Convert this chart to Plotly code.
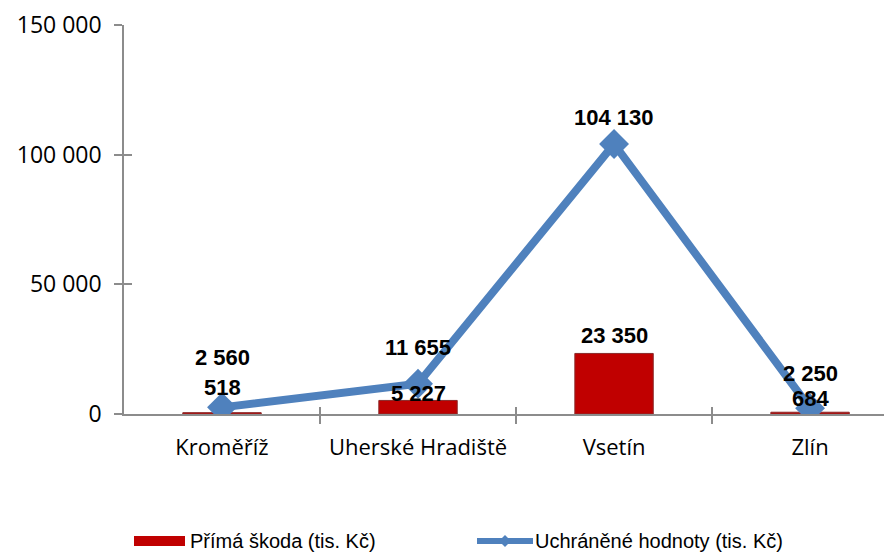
import plotly.graph_objects as go

categories = ["Kroměříž", "Uherské Hradiště", "Vsetín", "Zlín"]
prima_skoda = [518, 5227, 23350, 684]
uchranene = [2560, 11655, 104130, 2250]
y_ticks = [0, 50000, 100000, 150000]
y_tick_labels = ["0", "50 000", "100 000", "150 000"]

bar_color = "#C00000"
line_color = "#4F81BD"
axis_color = "#8C8C8C"

fig = go.Figure()
xs = list(range(len(categories)))
fig.add_trace(go.Bar(x=xs, y=prima_skoda, width=0.40, marker=dict(color=bar_color, line=dict(color="#8B2A2A", width=1)),
                     showlegend=False, hoverinfo="skip"))
fig.add_trace(go.Scatter(x=xs, y=uchranene, mode="lines+markers",
                         line=dict(color=line_color, width=8),
                         marker=dict(symbol="diamond", size=23, color=line_color),
                         showlegend=False, hoverinfo="skip"))

def fmt(v):
    return f"{v:,}".replace(",", " ")

label_font = dict(family="Liberation Sans, Arial", size=22, color="black")
bar_shift = [25, 7, 18, 14]
line_shift = [50, 36, 26, 35]
for i, v in enumerate(prima_skoda):
    fig.add_annotation(x=xs[i], y=v, text="<b>%s</b>" % fmt(v), showarrow=False,
                       yanchor="middle", yshift=bar_shift[i], font=label_font)
for i, v in enumerate(uchranene):
    fig.add_annotation(x=xs[i], y=v, text="<b>%s</b>" % fmt(v), showarrow=False,
                       yanchor="middle", yshift=line_shift[i], font=label_font)

# custom legend (positions relative to plot area: origin x=124, y=414 on page; 768 x 389 px)
def px(x):
    return (x - 124) / 768

def py(y):
    return -(y - 414) / 389

legend_font = dict(family="Liberation Sans, Arial", size=20, color="black")
fig.add_shape(type="rect", xref="paper", yref="paper", x0=px(134), x1=px(185),
              y0=py(536), y1=py(546), fillcolor=bar_color, line=dict(width=0))
fig.add_annotation(xref="paper", yref="paper", x=px(188), y=py(541), text="Přímá škoda (tis. Kč)",
                   showarrow=False, xanchor="left", yanchor="middle", font=legend_font)
fig.add_shape(type="line", xref="paper", yref="paper", x0=px(477), x1=px(533),
              y0=py(541), y1=py(541), line=dict(color=line_color, width=6))
fig.add_shape(type="path", xref="paper", yref="paper",
              path="M %f %f L %f %f L %f %f L %f %f Z" % (
                  px(499), py(541), px(505), py(535), px(511), py(541), px(505), py(547)),
              fillcolor=line_color, line=dict(width=0))
fig.add_annotation(xref="paper", yref="paper", x=px(533), y=py(541), text="Uchráněné hodnoty (tis. Kč)",
                   showarrow=False, xanchor="left", yanchor="middle", font=legend_font)

rng = [-0.5, 3.418]
fig.update_layout(
    width=884, height=544,
    margin=dict(l=116, r=0, t=17, b=138),
    paper_bgcolor="white", plot_bgcolor="white",
    showlegend=False,
    xaxis=dict(range=rng, tickmode="array", tickvals=xs, ticktext=categories,
               showline=True, linecolor=axis_color, linewidth=1.5, showgrid=False, zeroline=False,
               ticks="", ticklabelstandoff=13,
               tickfont=dict(family="Open Sans, Liberation Sans", size=22, color="black"),
               fixedrange=True),
    xaxis2=dict(overlaying="x", range=rng, tickmode="array", tickvals=[0.5, 1.5, 2.5, 3.5],
                ticks="outside", ticklen=9, tickcolor=axis_color, tickwidth=1.5, showticklabels=False,
                showgrid=False, zeroline=False, anchor="y", side="bottom", showline=False),
    xaxis3=dict(overlaying="x", range=rng, tickmode="array", tickvals=[0.5, 1.5, 2.5, 3.5],
                ticks="inside", ticklen=7, tickcolor=axis_color, tickwidth=1.5, showticklabels=False,
                showgrid=False, zeroline=False, anchor="y", side="bottom", showline=False),
    yaxis=dict(range=[0, 150000], tickmode="array", tickvals=y_ticks, ticktext=y_tick_labels,
               showline=True, linecolor=axis_color, linewidth=1.5, showgrid=False, zeroline=False,
               ticks="outside", ticklen=8, tickcolor=axis_color, tickwidth=1.5, ticklabelstandoff=8,
               tickfont=dict(family="Open Sans, Liberation Sans", size=23, color="black"), fixedrange=True),
    yaxis2=dict(overlaying="y", range=[0, 150000], tickmode="array", tickvals=y_ticks,
                ticks="inside", ticklen=8, tickcolor=axis_color, tickwidth=1.5, showticklabels=False,
                showgrid=False, zeroline=False, anchor="x", side="left", showline=False),
)
fig.add_trace(go.Scatter(x=[None], y=[None], xaxis="x2", yaxis="y2", showlegend=False, hoverinfo="skip"))
fig.add_trace(go.Scatter(x=[None], y=[None], xaxis="x3", yaxis="y2", showlegend=False, hoverinfo="skip"))
fig.write_html("out.html")
